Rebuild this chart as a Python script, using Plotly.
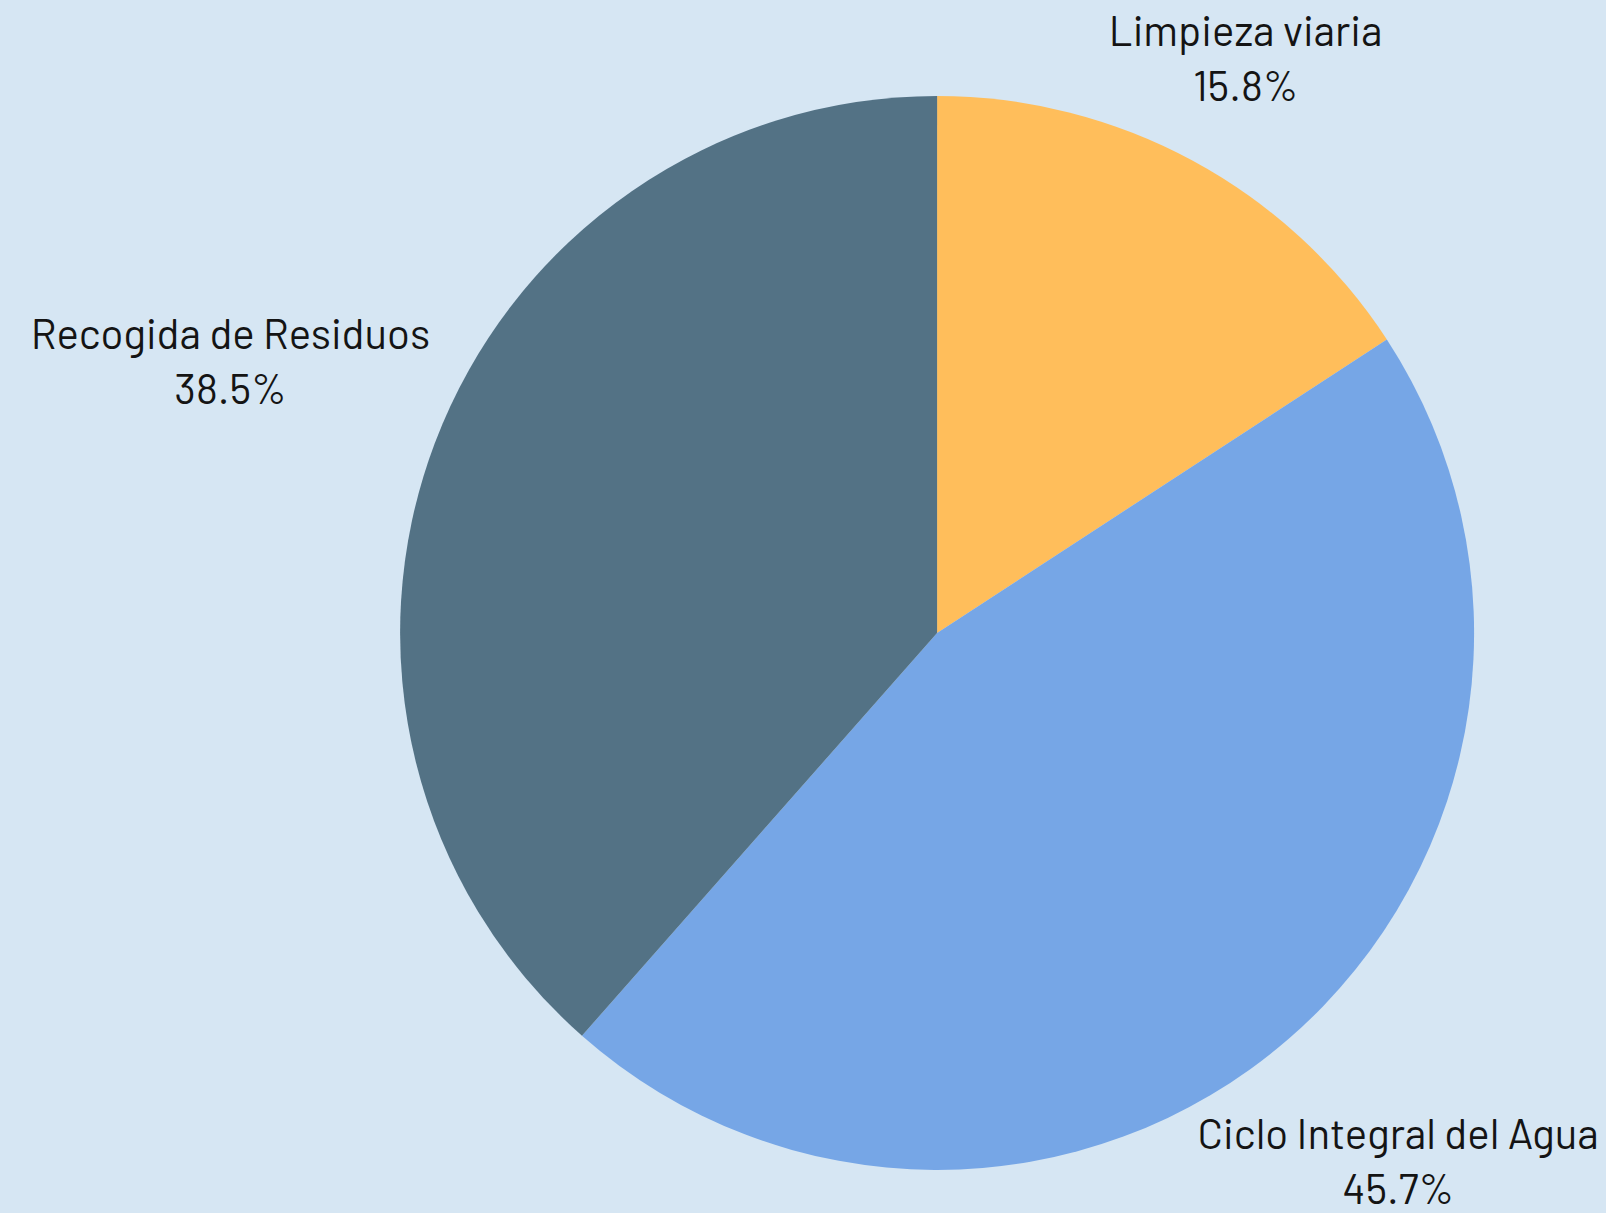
import math
import plotly.graph_objects as go

labels = ["Limpieza viaria", "Ciclo Integral del Agua", "Recogida de Residuos"]
values = [15.8, 45.7, 38.5]
colors = ["#FFBE5B", "#76A6E6", "#537285"]

W, H = 1606, 1213
FONT = 42
pie_x = [0.249, 0.918]
pie_y = [0.0355, 0.9209]

# pie geometry in pixels (margins are zero)
cx = W * (pie_x[0] + pie_x[1]) / 2
cy = H * (1 - (pie_y[0] + pie_y[1]) / 2)
R = min(W * (pie_x[1] - pie_x[0]), H * (pie_y[1] - pie_y[0])) / 2
gap = 15

total = sum(values)
pcts = [v / total * 100 for v in values]
texts = [f"{lab}<br>{p:.1f}%" for lab, p in zip(labels, pcts)]


def text_width(s):
    # rough Barlow advance widths
    narrow = set("iIljtfr .")
    return sum(0.27 if ch in narrow else 0.53 for ch in s) * FONT


def place_label(theta, text):
    # slide the label box out along the slice mid-angle until its nearest
    # point sits just outside the pie
    ux, uy = math.sin(theta), -math.cos(theta)
    hw = max(text_width(s) for s in text.split("<br>")) / 2
    hh = 46
    lo, hi = 0.0, 3 * R
    for _ in range(60):
        t = (lo + hi) / 2
        dx = max(abs(t * ux) - hw, 0)
        dy = max(abs(t * uy) - hh, 0)
        if math.hypot(dx, dy) < R + gap:
            lo = t
        else:
            hi = t
    return cx + t * ux, cy + t * uy


lx, ly = [], []
acc = 0
for v, txt in zip(values, texts):
    mid = (acc + v / 2) / total * 2 * math.pi
    acc += v
    x, y = place_label(mid, txt)
    lx.append(x)
    ly.append(y)

fig = go.Figure()
fig.add_trace(
    go.Pie(
        labels=labels,
        values=values,
        sort=False,
        direction="clockwise",
        rotation=0,
        marker=dict(colors=colors, line=dict(width=0)),
        textinfo="none",
        automargin=False,
        domain=dict(x=pie_x, y=pie_y),
        showlegend=False,
    )
)
fig.add_trace(
    go.Scatter(
        x=lx,
        y=ly,
        mode="text",
        text=texts,
        textposition="middle center",
        textfont=dict(family="Barlow, Roboto", size=FONT, color="#141414"),
        hoverinfo="skip",
        showlegend=False,
        cliponaxis=False,
    )
)
fig.update_layout(
    width=W,
    height=H,
    paper_bgcolor="#D6E6F3",
    plot_bgcolor="rgba(0,0,0,0)",
    margin=dict(l=0, r=0, t=0, b=0, autoexpand=False),
    xaxis=dict(range=[0, W], visible=False, fixedrange=True),
    yaxis=dict(range=[H, 0], visible=False, fixedrange=True),
)
fig.write_html(
    "out.html",
    config={"displayModeBar": False},
    post_script="document.body.style.margin='0';",
)
